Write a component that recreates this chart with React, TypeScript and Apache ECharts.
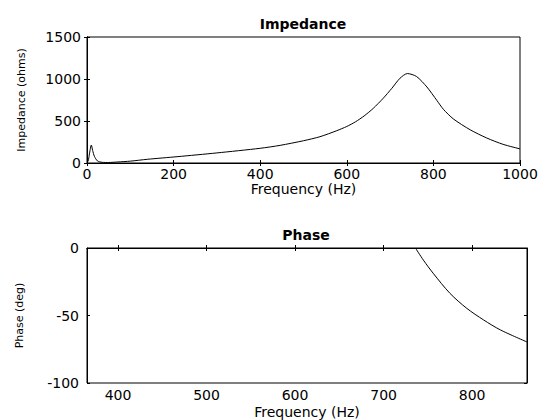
import React, { useEffect, useRef } from "react";
import * as echarts from "echarts";

const impFreq = [3, 6, 10, 13, 17, 24, 35, 50, 70, 100, 139, 208, 300, 400, 446, 500, 538, 577, 600, 620, 640, 661, 684, 704, 723, 740, 761, 785, 808, 823, 846, 885, 923, 961, 1000];
const impValues = [20, 120, 214, 150, 80, 25, 8, 6, 12, 22, 44, 75, 120, 175, 210, 265, 313, 385, 435, 490, 560, 650, 770, 889, 1010, 1065, 1030, 905, 745, 640, 525, 395, 298, 222, 168];

const phaseFreq = [736, 745, 756, 775, 794, 813, 832, 862];
const phaseValues = [0, -9, -18.7, -33.6, -44.7, -53.3, -60.7, -69.6];

const phaseTicks = [400, 500, 600, 700, 800];

const FONT = "DejaVu Sans";

export default function App() {
  const ref = useRef<HTMLDivElement>(null);
  useEffect(() => {
    const chart = echarts.init(ref.current!, null, { renderer: "svg" });
    const plain = (v: number) => String(v);
    const tickLabel = { color: "#000", fontFamily: FONT, fontSize: 14, formatter: plain };
    const axisLine = { show: true, lineStyle: { color: "#000", width: 1 } };
    const tick = { show: true, inside: true, length: 3, lineStyle: { color: "#000" } };
    chart.setOption({
      animation: false,
      backgroundColor: "#fff",
      grid: [
        { left: 87, right: 21, top: 37, height: 126, show: true, borderColor: "#000", borderWidth: 1 },
        { left: 87, right: 14, top: 248, height: 135, show: true, borderColor: "#000", borderWidth: 1 },
      ],
      graphic: [
        { type: "text", x: 303, y: 24, style: { text: "Impedance", font: `bold 14px ${FONT}`, fill: "#000", textAlign: "center", textVerticalAlign: "middle" } },
        { type: "text", x: 306, y: 235, style: { text: "Phase", font: `bold 14px ${FONT}`, fill: "#000", textAlign: "center", textVerticalAlign: "middle" } },
      ],
      xAxis: [
        {
          type: "value", gridIndex: 0, min: 0, max: 1000, interval: 200,
          name: "Frequency (Hz)", nameLocation: "middle", nameGap: 16,
          nameTextStyle: { color: "#000", fontFamily: FONT, fontSize: 14 },
          axisLine, axisTick: tick, splitLine: { show: false },
          axisLabel: { ...tickLabel, margin: 4 },
        },
        {
          type: "value", gridIndex: 0, position: "top", min: 0, max: 1000, interval: 200,
          axisLine, axisTick: tick, splitLine: { show: false }, axisLabel: { show: false },
        },
        {
          type: "value", gridIndex: 1, min: 365, max: 862,
          name: "Frequency (Hz)", nameLocation: "middle", nameGap: 22,
          nameTextStyle: { color: "#000", fontFamily: FONT, fontSize: 14 },
          axisLine, axisTick: { ...tick, customValues: phaseTicks }, splitLine: { show: false },
          axisLabel: { ...tickLabel, margin: 5, customValues: phaseTicks },
        },
        {
          type: "value", gridIndex: 1, position: "top", min: 365, max: 862,
          axisLine, axisTick: { ...tick, customValues: phaseTicks }, splitLine: { show: false },
          axisLabel: { show: false, customValues: phaseTicks },
        },
      ],
      yAxis: [
        {
          type: "value", gridIndex: 0, min: 0, max: 1500, interval: 500,
          name: "Impedance (ohms)", nameLocation: "middle", nameGap: 60,
          nameTextStyle: { color: "#000", fontFamily: FONT, fontSize: 11 },
          axisLine, axisTick: tick, splitLine: { show: false },
          axisLabel: { ...tickLabel, margin: 6 },
        },
        {
          type: "value", gridIndex: 0, position: "right", min: 0, max: 1500, interval: 500,
          axisLine, axisTick: tick, splitLine: { show: false }, axisLabel: { show: false },
        },
        {
          type: "value", gridIndex: 1, min: -100, max: 0, interval: 50,
          name: "Phase (deg)", nameLocation: "middle", nameGap: 62,
          nameTextStyle: { color: "#000", fontFamily: FONT, fontSize: 11 },
          axisLine, axisTick: tick, splitLine: { show: false },
          axisLabel: { ...tickLabel, margin: 8 },
        },
        {
          type: "value", gridIndex: 1, position: "right", min: -100, max: 0, interval: 50,
          axisLine, axisTick: tick, splitLine: { show: false }, axisLabel: { show: false },
        },
      ],
      series: [
        {
          type: "line", xAxisIndex: 0, yAxisIndex: 0, showSymbol: false, smooth: 0.25,
          lineStyle: { color: "#000", width: 1 },
          data: impFreq.map((f, i) => [f, impValues[i]]),
        },
        {
          type: "line", xAxisIndex: 2, yAxisIndex: 2, showSymbol: false, smooth: 0.3,
          lineStyle: { color: "#000", width: 1 },
          data: phaseFreq.map((f, i) => [f, phaseValues[i]]),
        },
      ],
    });
    return () => chart.dispose();
  }, []);
  return <div ref={ref} style={{ width: 541, height: 420, position: "absolute", left: 0, top: 0 }} />;
}
